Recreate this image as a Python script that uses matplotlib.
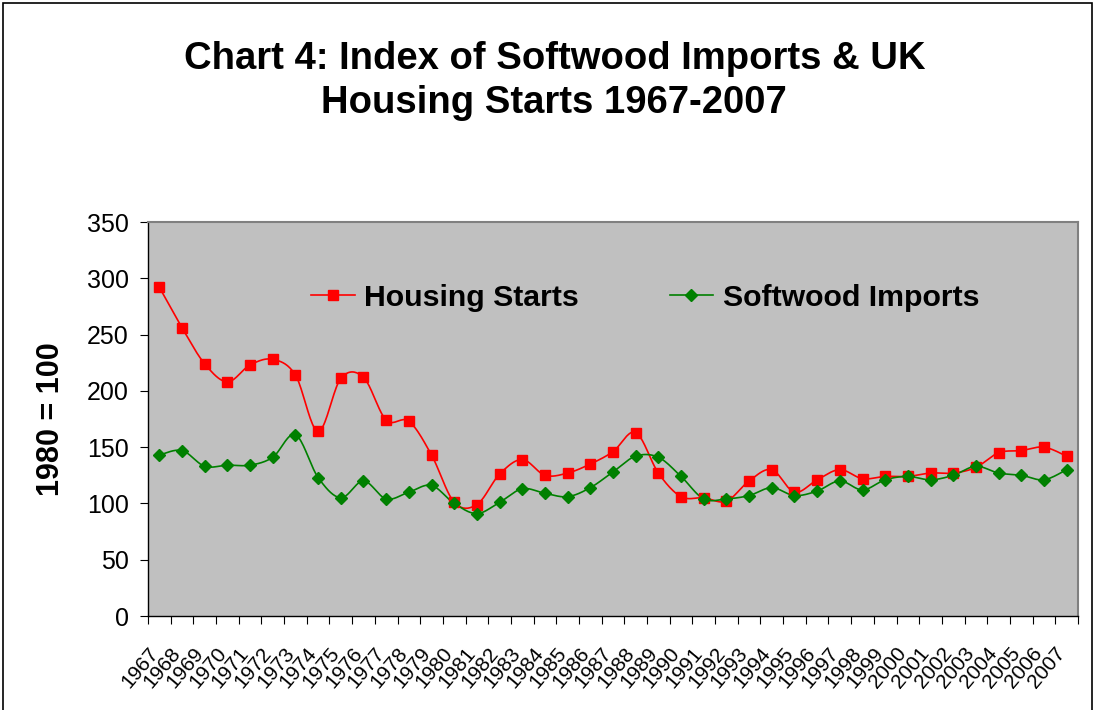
import numpy as np
import matplotlib
matplotlib.use("Agg")
import matplotlib.pyplot as plt
import matplotlib.transforms as mtrans
from matplotlib.patches import Rectangle

plt.rcParams['font.family'] = ['Liberation Sans', 'DejaVu Sans']

years = [str(y) for y in range(1967, 2008)]

housing = [292, 256, 224, 208, 223, 228, 214, 164, 211, 212,
           174, 173, 143, 101, 99, 126, 139, 125, 127, 135,
           146, 163, 127, 106, 105, 102, 120, 130, 110, 121,
           130, 122, 124, 124, 127, 127, 132, 145, 147, 150, 142]

softwood = [143, 147, 133, 134, 134, 141, 161, 123, 105, 120,
            104, 110, 116, 100, 91, 101, 113, 109, 106, 114,
            128, 142, 141, 124, 104, 104, 107, 114, 107, 111,
            120, 112, 121, 124, 121, 125, 133, 127, 125, 121, 130]


def smooth(x, y, n=20):
    # catmull-rom style smoothing like the excel "smoothed line" option
    x = np.asarray(x, float)
    y = np.asarray(y, float)
    xs, ys = [], []
    for i in range(len(x) - 1):
        i0 = max(i - 1, 0)
        i3 = min(i + 2, len(x) - 1)
        p0 = np.array([x[i], y[i]])
        p3 = np.array([x[i + 1], y[i + 1]])
        p1 = p0 + (np.array([x[i + 1], y[i + 1]]) - np.array([x[i0], y[i0]])) / 6
        p2 = p3 - (np.array([x[i3], y[i3]]) - np.array([x[i], y[i]])) / 6
        t = np.linspace(0, 1, n, endpoint=False)[:, None]
        pts = ((1 - t) ** 3) * p0 + 3 * ((1 - t) ** 2) * t * p1 + 3 * (1 - t) * t ** 2 * p2 + t ** 3 * p3
        xs.extend(pts[:, 0])
        ys.extend(pts[:, 1])
    xs.append(x[-1])
    ys.append(y[-1])
    return xs, ys


fig = plt.figure(figsize=(11.02, 7.10), dpi=100)
fig.patches.append(Rectangle((3 / 1102, -0.1), 1089 / 1102, 1.1 - 3 / 710,
                             transform=fig.transFigure, fill=False,
                             edgecolor='black', linewidth=1.2))

ax = fig.add_axes([148 / 1102, 1 - 616 / 710, 930 / 1102, 394 / 710])
ax.set_facecolor('#C0C0C0')

x = np.arange(len(years))
hx, hy = smooth(x, housing)
sx, sy = smooth(x, softwood)

ax.plot(hx, hy, color='#FF0000', linewidth=1.2, zorder=2)
ax.plot(sx, sy, color='#008000', linewidth=1.2, zorder=2)
ax.plot(x, housing, linestyle='none', marker='s', markersize=6.5,
        color='#FF0000', zorder=3)
ax.plot(x, softwood, linestyle='none', marker='D', markersize=6,
        color='#008000', zorder=3)

# legend handles
h1, = ax.plot([], [], color='#FF0000', marker='s', markersize=6.5, linewidth=1.2)
h2, = ax.plot([], [], color='#008000', marker='D', markersize=6, linewidth=1.2)
fig.legend([h1, h2], ['Housing Starts', 'Softwood Imports'], ncol=2,
           loc='center', bbox_to_anchor=(645 / 1102, 1 - 298 / 710),
           frameon=False, prop={'weight': 'bold', 'size': 21.8},
           handlelength=1.45, columnspacing=3.0, handletextpad=0.3,
           borderpad=0, borderaxespad=0)

ax.set_xlim(-0.5, len(years) - 0.5)
ax.set_ylim(0, 350)
ax.set_yticks(range(0, 351, 50))
ax.tick_params(axis='y', labelsize=18, length=6, direction='out', pad=8)
ax.set_xticks(np.arange(len(years) + 1) - 0.5)
ax.set_xticklabels([])
ax.set_xticks(x, minor=True)
ax.set_xticklabels(years, minor=True, rotation=50, ha='right', va='top',
                   rotation_mode='anchor', fontsize=15)
ax.tick_params(axis='x', which='major', length=6, direction='out')
ax.tick_params(axis='x', which='minor', length=0, pad=20)
shift = mtrans.ScaledTranslation(-12 / 100, 0, fig.dpi_scale_trans)
for lab in ax.xaxis.get_minorticklabels():
    lab.set_transform(lab.get_transform() + shift)

for s in ['top', 'right']:
    ax.spines[s].set_color('#808080')
    ax.spines[s].set_linewidth(1.5)
for s in ['left', 'bottom']:
    ax.spines[s].set_color('black')
    ax.spines[s].set_linewidth(1)

ax.set_ylabel('1980 = 100', fontsize=22, fontweight='bold')
ax.yaxis.set_label_coords((66 - 148) / 930, 0.5)

fig.text(0.503, 1 - 81 / 710, 'Chart 4: Index of Softwood Imports & UK\nHousing Starts 1967-2007',
         ha='center', va='center', fontsize=27.5, fontweight='bold', linespacing=1.3)

fig.savefig('out.png', dpi=100)
